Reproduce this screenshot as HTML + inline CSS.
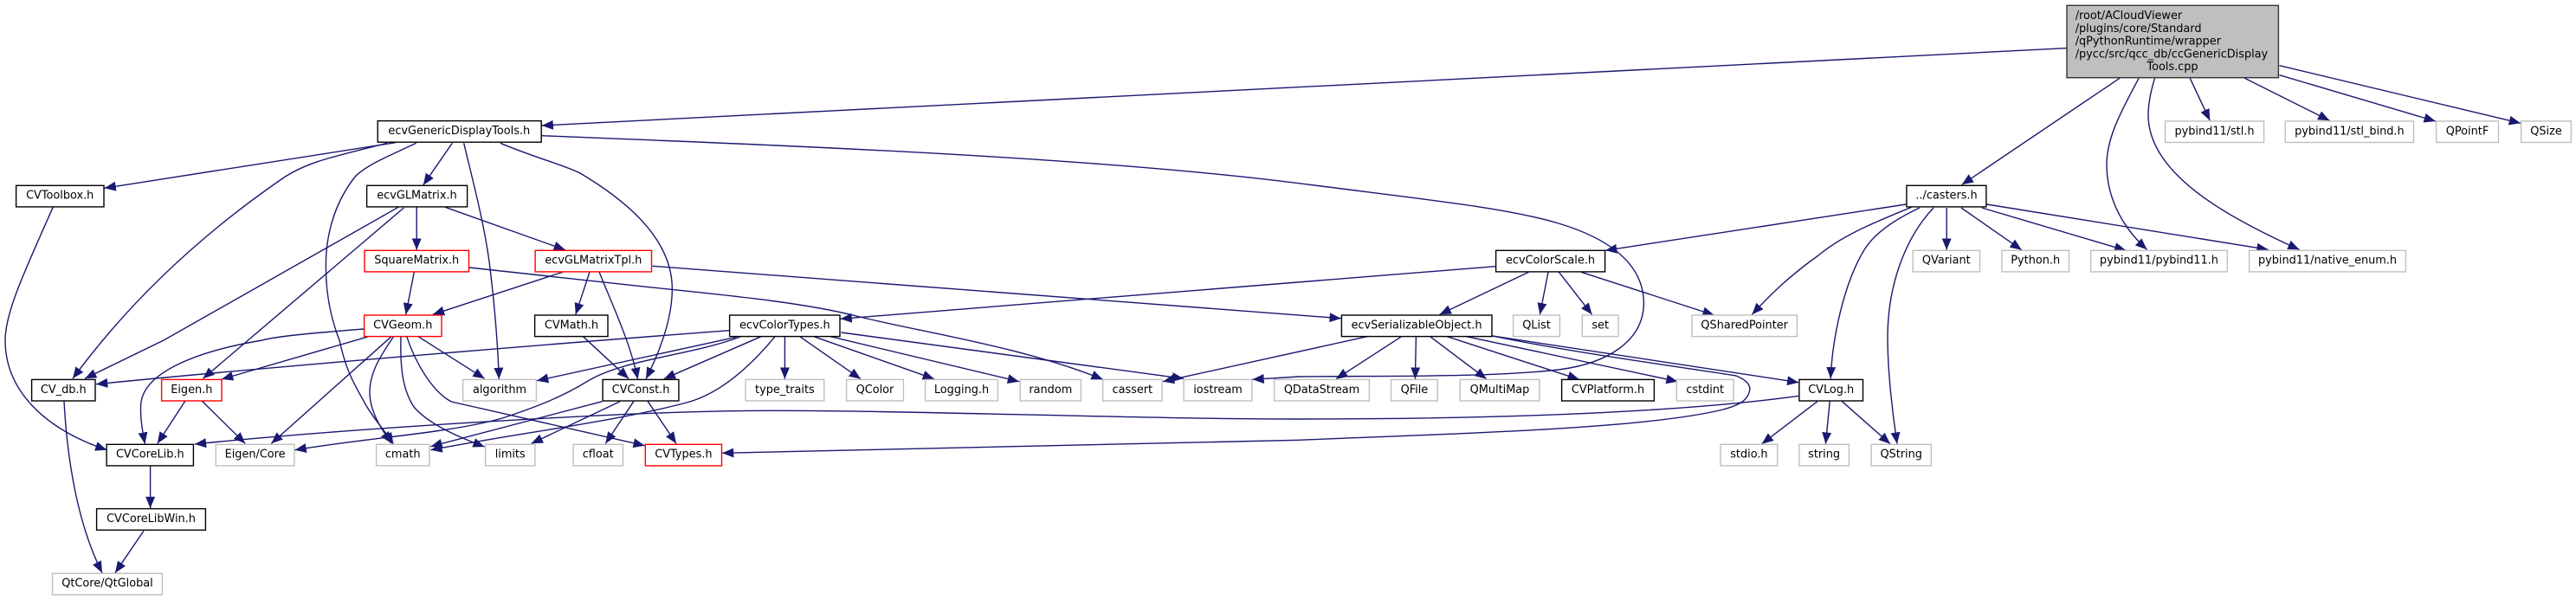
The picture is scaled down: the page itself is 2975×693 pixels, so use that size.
<!DOCTYPE html>
<html><head><meta charset="utf-8"><title>Include graph</title>
<style>
html,body{margin:0;padding:0;background:#fff}
svg{display:block}
text{font-family:"DejaVu Sans","Liberation Sans",sans-serif;font-size:12.87px;fill:#000;text-anchor:middle}
.e path{fill:none;stroke:#191970;stroke-width:1.4}
.n rect{fill:#fff;stroke-width:1.4}
.k rect{stroke:#000}.g rect{stroke:#bfbfbf}.r rect{stroke:#f00}
</style></head><body>
<svg xmlns="http://www.w3.org/2000/svg" width="2975" height="693" viewBox="0 0 2975 693">
<defs><marker id="a" markerUnits="userSpaceOnUse" markerWidth="14" markerHeight="12" refX="13.3" refY="5.5" orient="auto"><path d="M0,0L13.3,5.5L0,11Z" fill="#191970" stroke="none"/></marker></defs>
<g class="e">
<path marker-end="url(#a)" d="M2387,55.6L625.6,145"/>
<path marker-end="url(#a)" d="M2448,90.3L2265.7,213.3"/>
<path marker-end="url(#a)" d="M2470,90.3C2455,120 2433,155 2433,190C2433,222 2446,258 2479.5,288.3"/>
<path marker-end="url(#a)" d="M2488.5,90.3C2484,105 2481,120 2481,133C2481,200 2570,250 2655.5,288.3"/>
<path marker-end="url(#a)" d="M2529.2,90.3L2552.2,139.3"/>
<path marker-end="url(#a)" d="M2592.3,90.3L2690.4,139.3"/>
<path marker-end="url(#a)" d="M2632.5,86.7L2812.8,140"/>
<path marker-end="url(#a)" d="M2632.5,75.7L2911,142.3"/>
<path marker-end="url(#a)" d="M456.8,164.7L120.5,217.3"/>
<path marker-end="url(#a)" d="M447,165.3C390,180 355,186 325,207C270,245 170,320 84,437.3"/>
<path marker-end="url(#a)" d="M480.7,165.3C445,182 425,190 411,203C385,235 376,275 376.4,306.7C376,345 385,375 392,393C400,430 410,445 421,465C430,482 445,498 454.4,513"/>
<path marker-end="url(#a)" d="M522.3,165.3L488.8,213.7"/>
<path marker-end="url(#a)" d="M535.7,165.3C545,205 560,260 566,310C572,360 575,400 576.3,438"/>
<path marker-end="url(#a)" d="M577.8,165.3C620,183 650,190 670,200C712,225 776,270 776.3,333C776.5,365 765,400 746,437.7"/>
<path marker-end="url(#a)" d="M625.6,156.7C875,167 1250,180 1500,211.7C1650,231 1740,240 1800,258C1850,273 1898,300 1898.4,350C1898,395 1855,420 1800,427C1720,436 1600,434 1500,435L1446.4,438.3"/>
<path marker-end="url(#a)" d="M2201.3,236L1854,289.3"/>
<path marker-end="url(#a)" d="M2207.5,239.3C2170,255 2130,270 2100,295C2065,320 2045,340 2023.4,363.3"/>
<path marker-end="url(#a)" d="M2217,240C2185,255 2165,270 2154,287C2130,325 2116,390 2114.2,437.3"/>
<path marker-end="url(#a)" d="M2233,240C2200,275 2180,330 2180,390C2180,430 2186,480 2191,512.7"/>
<path marker-end="url(#a)" d="M2248.2,240L2248.2,288.7"/>
<path marker-end="url(#a)" d="M2265,240L2334.8,288.7"/>
<path marker-end="url(#a)" d="M2288.8,240L2455.3,289.3"/>
<path marker-end="url(#a)" d="M2294.6,236L2619.6,288.3"/>
<path marker-end="url(#a)" d="M1727,307.7L970.5,368.3"/>
<path marker-end="url(#a)" d="M1765.5,314.3L1662.6,363.3"/>
<path marker-end="url(#a)" d="M1788,314.3L1778.4,363.3"/>
<path marker-end="url(#a)" d="M1800.4,314.3L1838.6,363.3"/>
<path marker-end="url(#a)" d="M1826.2,314.3L1979.7,364"/>
<path marker-end="url(#a)" d="M1579,388.7L1343,440.7"/>
<path marker-end="url(#a)" d="M1618.6,388.7L1543,437.7"/>
<path marker-end="url(#a)" d="M1635.4,388.7L1634.4,437.7"/>
<path marker-end="url(#a)" d="M1651.6,388.7L1716.7,437.7"/>
<path marker-end="url(#a)" d="M1671.2,388.7L1823.8,438.3"/>
<path marker-end="url(#a)" d="M1693.7,388.7L1937.6,440.7"/>
<path marker-end="url(#a)" d="M1723.4,388L2077.3,441.7"/>
<path marker-end="url(#a)" d="M1723.4,388C1820,408 1950,425 2005,434C2020,440 2022,447 2020.4,452C2018,463 2008,468 1990,473C1900,495 1700,500 1500,508.3L834,523.3"/>
<path marker-end="url(#a)" d="M2077.3,457.3C1950,475 1750,484 1500,484C1300,484 1000,472 845.7,474.7C700,477 400,495 224.8,513"/>
<path marker-end="url(#a)" d="M2098.8,463.7L2034.7,512.7"/>
<path marker-end="url(#a)" d="M2113.2,463.7L2108.4,512.7"/>
<path marker-end="url(#a)" d="M2127.5,463.7L2183,512.7"/>
<path marker-end="url(#a)" d="M842.3,381.7C600,400 300,425 111,443.7"/>
<path marker-end="url(#a)" d="M850.4,389.3L620,439.7"/>
<path marker-end="url(#a)" d="M879,388.7L766.7,437.7"/>
<path marker-end="url(#a)" d="M855,389C800,410 720,415 679,440C650,458 620,470 580,483C520,500 430,505 340.5,519.7"/>
<path marker-end="url(#a)" d="M895,388.7C865,425 830,455 793,465C710,487 600,500 497.4,519.7"/>
<path marker-end="url(#a)" d="M906.4,388.7L906.4,437.7"/>
<path marker-end="url(#a)" d="M923.6,388.7L994,437.7"/>
<path marker-end="url(#a)" d="M939.9,388.7L1079,437.7"/>
<path marker-end="url(#a)" d="M959,388.7L1177,440.7"/>
<path marker-end="url(#a)" d="M971.5,384L1367,437.3"/>
<path marker-end="url(#a)" d="M542,309L750,331.7C850,342 930,350 989,365C1060,383 1180,400 1273.7,438.3"/>
<path marker-end="url(#a)" d="M478.3,314L468.7,363.3"/>
<path marker-end="url(#a)" d="M481.2,239.3L481.2,288.7"/>
<path marker-end="url(#a)" d="M514.2,239.3L652.9,288.7"/>
<path marker-end="url(#a)" d="M460.1,239.3L189,393L98,437.3"/>
<path marker-end="url(#a)" d="M466.4,240L234.4,437.3"/>
<path marker-end="url(#a)" d="M650.5,314L499.8,363.3"/>
<path marker-end="url(#a)" d="M681,314L664.8,363.3"/>
<path marker-end="url(#a)" d="M692,314C704,345 728,395 736.6,438"/>
<path marker-end="url(#a)" d="M753.3,307.3L1548.8,367.7"/>
<path marker-end="url(#a)" d="M673.4,388.7L726,437.3"/>
<path marker-end="url(#a)" d="M420,380C370,384 320,388 303,393C230,405 162,430 162.6,470C162,485 165,500 167.4,512.7"/>
<path marker-end="url(#a)" d="M425.7,388.7L256,438"/>
<path marker-end="url(#a)" d="M452,388.7L313.3,512.3"/>
<path marker-end="url(#a)" d="M454.4,389C440,410 427,430 427,453C427,475 440,495 452,512"/>
<path marker-end="url(#a)" d="M463,388.7C462,425 465,450 478,470C495,490 530,505 559.6,516"/>
<path marker-end="url(#a)" d="M469.7,388.7C480,420 500,453 521.4,464L744.7,514.7"/>
<path marker-end="url(#a)" d="M483,388.7L559.6,437.3"/>
<path marker-end="url(#a)" d="M213.8,463.3L181.8,512.3"/>
<path marker-end="url(#a)" d="M233.4,463.3L283.2,512.3"/>
<path marker-end="url(#a)" d="M74,463.3C78,540 92,610 118,661.7"/>
<path marker-end="url(#a)" d="M61.2,239.3C30,310 6,360 6,393C6,450 50,495 123.4,519.7"/>
<path marker-end="url(#a)" d="M173.6,538L173.6,587"/>
<path marker-end="url(#a)" d="M166,613L133,661.7"/>
<path marker-end="url(#a)" d="M695.5,463.7L497.4,515.7"/>
<path marker-end="url(#a)" d="M716,463.7L613.6,512.3"/>
<path marker-end="url(#a)" d="M731.8,463.7L699.3,512.3"/>
<path marker-end="url(#a)" d="M748,463.3L781,512.3"/>
</g>
<g class="n k">
<rect x="2387" y="6.3" width="244.4" height="83.4" style="fill:#bfbfbf;stroke:#333"/>
<text x="2396.7" y="22" style="text-anchor:start">/root/ACloudViewer</text>
<text x="2396.7" y="36.8" style="text-anchor:start">/plugins/core/Standard</text>
<text x="2396.7" y="51.6" style="text-anchor:start">/qPythonRuntime/wrapper</text>
<text x="2396.7" y="66.4" style="text-anchor:start">/pycc/src/qcc_db/ccGenericDisplay</text>
<text x="2509" y="81">Tools.cpp</text>
<rect x="436.2" y="139.6" width="189" height="24.6"/><text x="530.3" y="155">ecvGenericDisplayTools.h</text>
<rect x="18.6" y="214.3" width="101.4" height="24.6"/><text x="69.2" y="229.7">CVToolbox.h</text>
<rect x="423.6" y="214.3" width="116" height="24.6"/><text x="481.5" y="229.7">ecvGLMatrix.h</text>
<rect x="2201.9" y="214.3" width="92" height="24.6"/><text x="2248" y="229.7">../casters.h</text>
<rect x="1727.6" y="289.3" width="126" height="24.6"/><text x="1790.5" y="304.7">ecvColorScale.h</text>
<rect x="617.6" y="364" width="84.4" height="24.6"/><text x="660" y="379.4">CVMath.h</text>
<rect x="842.6" y="364" width="127.4" height="24.6"/><text x="906.3" y="379.4">ecvColorTypes.h</text>
<rect x="1549.4" y="364" width="173.6" height="24.6"/><text x="1636" y="379.4">ecvSerializableObject.h</text>
<rect x="36.6" y="438.4" width="73.4" height="24.6"/><text x="73.3" y="453.8">CV_db.h</text>
<rect x="696.1" y="438.4" width="87.8" height="24.6"/><text x="740" y="453.8">CVConst.h</text>
<rect x="1803.6" y="438.4" width="106.8" height="24.6"/><text x="1857" y="453.8">CVPlatform.h</text>
<rect x="2077.9" y="438.4" width="73.6" height="24.6"/><text x="2114.7" y="453.8">CVLog.h</text>
<rect x="123.1" y="513.3" width="100.3" height="24.6"/><text x="173.3" y="528.7">CVCoreLib.h</text>
<rect x="111.6" y="587.6" width="125.8" height="24.6"/><text x="174.5" y="603">CVCoreLibWin.h</text>
</g>
<g class="n r">
<rect x="421" y="289.3" width="120.5" height="24.6"/><text x="481.2" y="304.7">SquareMatrix.h</text>
<rect x="618.1" y="289.3" width="134.4" height="24.6"/><text x="685.3" y="304.7">ecvGLMatrixTpl.h</text>
<rect x="420.6" y="364" width="89.4" height="24.6"/><text x="465.3" y="379.4">CVGeom.h</text>
<rect x="186.6" y="438.4" width="69.4" height="24.6"/><text x="221.3" y="453.8">Eigen.h</text>
<rect x="745.3" y="513.3" width="88.2" height="24.6"/><text x="789.4" y="528.7">CVTypes.h</text>
</g>
<g class="n g">
<rect x="2500.6" y="139.9" width="114" height="24.6"/><text x="2557.5" y="155.3">pybind11/stl.h</text>
<rect x="2639.3" y="139.9" width="148.2" height="24.6"/><text x="2713.4" y="155.3">pybind11/stl_bind.h</text>
<rect x="2813.6" y="139.9" width="71.8" height="24.6"/><text x="2849.5" y="155.3">QPointF</text>
<rect x="2911.6" y="139.9" width="57.8" height="24.6"/><text x="2940.5" y="155.3">QSize</text>
<rect x="2209.1" y="289.3" width="77.4" height="24.6"/><text x="2247.8" y="304.7">QVariant</text>
<rect x="2311.9" y="289.3" width="77.6" height="24.6"/><text x="2350.7" y="304.7">Python.h</text>
<rect x="2414.6" y="289.3" width="157.6" height="24.6"/><text x="2493.4" y="304.7">pybind11/pybind11.h</text>
<rect x="2597.6" y="289.3" width="180.8" height="24.6"/><text x="2688" y="304.7">pybind11/native_enum.h</text>
<rect x="1747.6" y="364" width="53.8" height="24.6"/><text x="1774.5" y="379.4">QList</text>
<rect x="1827.3" y="364" width="41.8" height="24.6"/><text x="1848.2" y="379.4">set</text>
<rect x="1954" y="364" width="121.4" height="24.6"/><text x="2014.7" y="379.4">QSharedPointer</text>
<rect x="534.6" y="438.4" width="84.8" height="24.6"/><text x="577" y="453.8">algorithm</text>
<rect x="861.1" y="438.4" width="90.6" height="24.6"/><text x="906.4" y="453.8">type_traits</text>
<rect x="977.6" y="438.4" width="65.8" height="24.6"/><text x="1010.5" y="453.8">QColor</text>
<rect x="1068.6" y="438.4" width="83.8" height="24.6"/><text x="1110.5" y="453.8">Logging.h</text>
<rect x="1178.2" y="438.4" width="70.2" height="24.6"/><text x="1213.3" y="453.8">random</text>
<rect x="1273.6" y="438.4" width="68.4" height="24.6"/><text x="1307.8" y="453.8">cassert</text>
<rect x="1367.1" y="438.4" width="78.7" height="24.6"/><text x="1406.5" y="453.8">iostream</text>
<rect x="1471.6" y="438.4" width="109.8" height="24.6"/><text x="1526.5" y="453.8">QDataStream</text>
<rect x="1606.6" y="438.4" width="53.5" height="24.6"/><text x="1633.4" y="453.8">QFile</text>
<rect x="1686.2" y="438.4" width="91.6" height="24.6"/><text x="1732" y="453.8">QMultiMap</text>
<rect x="1936.3" y="438.4" width="65.8" height="24.6"/><text x="1969.2" y="453.8">cstdint</text>
<rect x="249.3" y="513.3" width="90.6" height="24.6"/><text x="294.6" y="528.7">Eigen/Core</text>
<rect x="434.6" y="513.3" width="61.3" height="24.6"/><text x="465.2" y="528.7">cmath</text>
<rect x="560.6" y="513.3" width="57.3" height="24.6"/><text x="589.2" y="528.7">limits</text>
<rect x="662.1" y="513.3" width="57.3" height="24.6"/><text x="690.7" y="528.7">cfloat</text>
<rect x="1987" y="513.3" width="65.8" height="24.6"/><text x="2019.9" y="528.7">stdio.h</text>
<rect x="2077.9" y="513.3" width="57.5" height="24.6"/><text x="2106.6" y="528.7">string</text>
<rect x="2161.1" y="513.3" width="69.3" height="24.6"/><text x="2195.7" y="528.7">QString</text>
<rect x="60.6" y="662.3" width="126.8" height="24.6"/><text x="124" y="677.7">QtCore/QtGlobal</text>
</g>
</svg>
</body></html>
